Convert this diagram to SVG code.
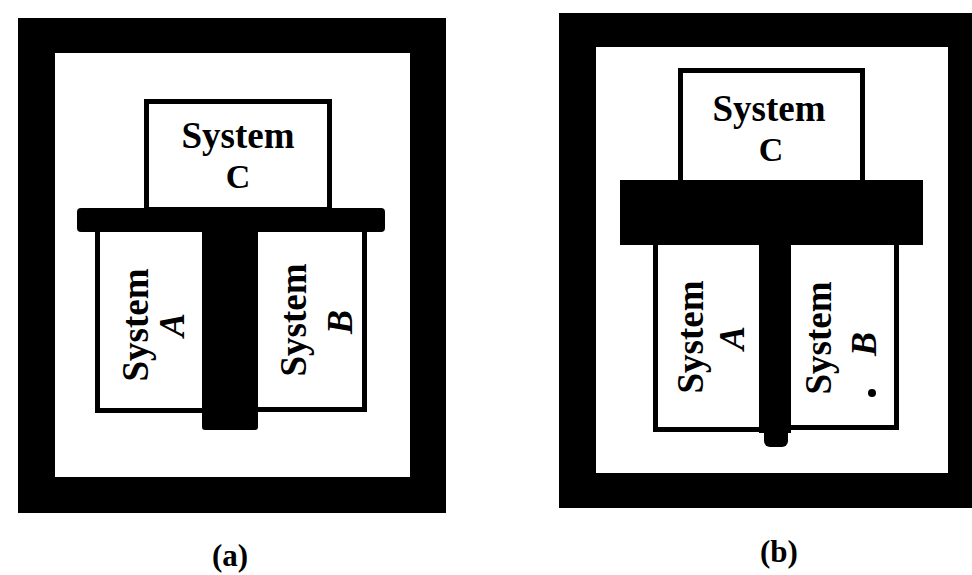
<svg xmlns="http://www.w3.org/2000/svg" width="972" height="575" viewBox="0 0 972 575">
<style>
.bk{fill:#000}
.wh{fill:#fff}
.box{fill:#fff;stroke:#000;stroke-width:5}
.t{font-family:"Liberation Serif","DejaVu Serif",serif;font-weight:bold;font-size:37px;fill:#000;text-anchor:middle}
.c{font-size:34px}
.i{font-style:italic;font-size:36px}
.lab{font-family:"Liberation Serif","DejaVu Serif",serif;font-weight:bold;font-size:31px;fill:#000;text-anchor:middle}
</style>
<rect width="972" height="575" fill="#fff"/>

<!-- Panel (a) -->
<g id="frame-a">
  <rect class="bk" x="18" y="18" width="428" height="495"/>
  <rect class="wh" x="55" y="53" width="355" height="424"/>
</g>
<g id="system-c-a">
  <rect class="box" x="146.5" y="101.5" width="183" height="108"/>
  <text class="t" x="238" y="148">System</text>
  <text class="t c" x="238" y="188">C</text>
</g>
<g id="system-a-a">
  <rect class="box" x="97.5" y="228" width="110" height="182.5"/>
  <text class="t" transform="translate(148,325) rotate(-90)">System</text>
  <text class="t i" transform="translate(184,325) rotate(-90)">A</text>
</g>
<g id="system-b-a">
  <rect class="box" x="255" y="228" width="109.5" height="181.5"/>
  <text class="t" transform="translate(306,320) rotate(-90)">System</text>
  <text class="t i" transform="translate(352,322) rotate(-90)">B</text>
</g>
<g id="wall-a">
  <rect class="bk" x="77" y="208" width="308" height="24" rx="4"/>
  <rect class="bk" x="202" y="226" width="56" height="204" rx="3"/>
</g>
<text class="lab" x="230" y="566">(a)</text>

<!-- Panel (b) -->
<g id="frame-b">
  <rect class="bk" x="559" y="13" width="413" height="495"/>
  <rect class="wh" x="596" y="47" width="352" height="426"/>
</g>
<g id="system-c-b">
  <rect class="box" x="680.5" y="70.5" width="182" height="112"/>
  <text class="t" x="769" y="121">System</text>
  <text class="t c" x="771" y="161">C</text>
</g>
<g id="system-a-b">
  <rect class="box" x="655.5" y="240" width="110" height="189.5"/>
  <text class="t" transform="translate(703,337) rotate(-90)">System</text>
  <text class="t i" transform="translate(744,338) rotate(-90)">A</text>
</g>
<g id="system-b-b">
  <rect class="box" x="785" y="240" width="111.5" height="187.5"/>
  <text class="t" transform="translate(831,338) rotate(-90)">System</text>
  <text class="t i" transform="translate(876,344) rotate(-90)">B</text>
  <ellipse class="bk" cx="872" cy="393" rx="4" ry="4"/>
</g>
<g id="wall-b">
  <rect class="bk" x="620" y="180" width="303" height="65"/>
  <rect class="bk" x="759" y="240" width="32" height="193"/>
  <rect class="bk" x="764" y="425" width="24" height="22" rx="6"/>
</g>
<text class="lab" x="779" y="562">(b)</text>
</svg>
